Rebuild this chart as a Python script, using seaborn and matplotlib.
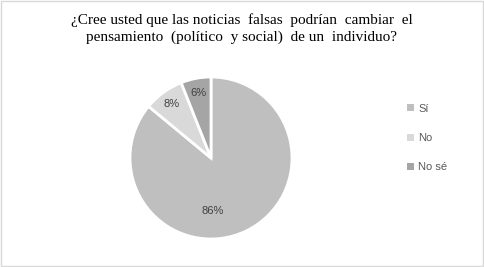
import matplotlib
matplotlib.use('Agg')
import matplotlib.pyplot as plt
import seaborn as sns
from matplotlib.patches import Rectangle

# Chart data
labels = ['Sí', 'No', 'No sé']
values = [86, 8, 6]
colors = ['#bfbfbf', '#d9d9d9', '#a5a5a5']
title = '¿Cree usted que las noticias  falsas  podrían  cambiar  el\npensamiento  (político  y social)  de un  individuo?'

sns.set_theme(style='white')
plt.rcParams['font.family'] = ['Liberation Sans', 'DejaVu Sans']

fig = plt.figure(figsize=(4.84, 2.67), dpi=100)
fig.patch.set_facecolor('white')

# light grey frame round the whole chart
fig.patches.append(Rectangle((0.002, 0.004), 0.996, 0.992, transform=fig.transFigure,
                             fill=False, edgecolor='#d9d9d9', linewidth=1))

fig.text(0.5, 0.95, title, ha='center', va='top', fontsize=11,
         family=['Liberation Serif', 'DejaVu Serif'], color='black', linespacing=1.35)

ax = fig.add_axes([130 / 484, 28 / 267, 162 / 484, 162 / 267])
wedges, texts, autotexts = ax.pie(values, colors=colors, startangle=90, counterclock=False,
                                  autopct='%1.0f%%', pctdistance=0.82,
                                  wedgeprops=dict(edgecolor='white', linewidth=2),
                                  textprops=dict(fontsize=8, color='#404040'))
ax.set_aspect('equal')
ax.set_xlim(-1.0, 1.0)
ax.set_ylim(-1.0, 1.0)
# big slice label sits lower, near the bottom centre
autotexts[0].set_position((0.02, -0.66))

handles = [Rectangle((0, 0), 1, 1, facecolor=c, edgecolor='none') for c in colors]
leg = fig.legend(handles, labels, loc='center left', bbox_to_anchor=(0.82, 0.483),
                 frameon=False, fontsize=8, handlelength=0.6, handleheight=0.6,
                 handletextpad=0.4, labelspacing=1.75, labelcolor='#595959')

fig.savefig('out.png', dpi=100)
